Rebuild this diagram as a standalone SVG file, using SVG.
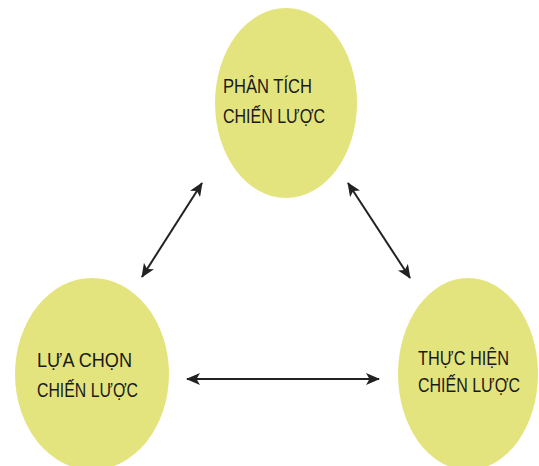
<svg xmlns="http://www.w3.org/2000/svg" width="539" height="466" viewBox="0 0 539 466">
<defs>
<style>
.node{fill:#e4e47e;}
.lbl{font-family:"Liberation Sans",Arial,sans-serif;font-size:21px;fill:#1a1a1a;}
.conn{stroke:#222;stroke-width:2;fill:none;marker-start:url(#ah);marker-end:url(#ah);}
</style>
<marker id="ah" viewBox="0 0 14 12" refX="13" refY="6" markerWidth="14" markerHeight="12" markerUnits="userSpaceOnUse" orient="auto-start-reverse">
<path d="M0,0 L14,6 L0,12 L3.5,6 Z" fill="#222"/>
</marker>
</defs>
<rect width="539" height="466" fill="#fff"/>
<g id="node-phan-tich">
<ellipse class="node" cx="286" cy="103" rx="71" ry="95"/>
<text class="lbl" x="223" y="93" textLength="89" lengthAdjust="spacingAndGlyphs">PHÂN TÍCH</text>
<text class="lbl" x="223" y="123" textLength="102" lengthAdjust="spacingAndGlyphs">CHIẾN LƯỢC</text>
</g>
<g id="node-lua-chon">
<ellipse class="node" cx="92" cy="374" rx="77" ry="96"/>
<text class="lbl" x="37" y="367" textLength="95" lengthAdjust="spacingAndGlyphs">LỰA CHỌN</text>
<text class="lbl" x="37" y="397" textLength="101" lengthAdjust="spacingAndGlyphs">CHIẾN LƯỢC</text>
</g>
<g id="node-thuc-hien">
<ellipse class="node" cx="468" cy="374" rx="70" ry="96"/>
<text class="lbl" x="418" y="365" textLength="91" lengthAdjust="spacingAndGlyphs">THỰC HIỆN</text>
<text class="lbl" x="418" y="392" textLength="102" lengthAdjust="spacingAndGlyphs">CHIẾN LƯỢC</text>
</g>
<g id="connectors">
<line class="conn" x1="142" y1="277" x2="202" y2="183"/>
<line class="conn" x1="348" y1="183" x2="410" y2="278"/>
<line class="conn" x1="187" y1="379" x2="379" y2="379"/>
</g>
</svg>
